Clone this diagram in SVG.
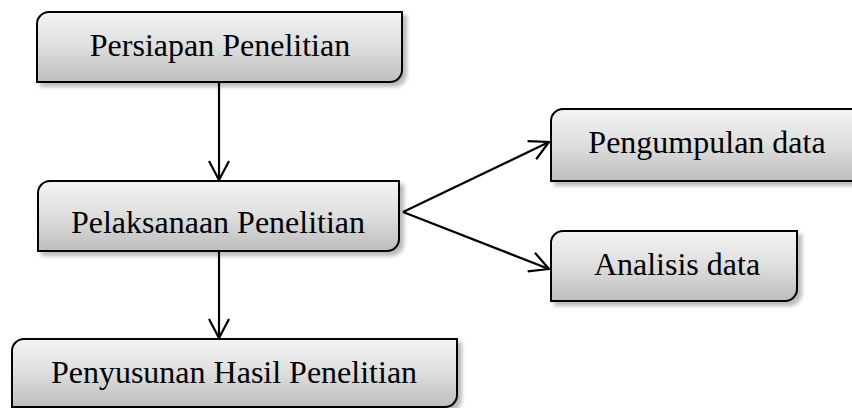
<svg xmlns="http://www.w3.org/2000/svg" width="852" height="408" viewBox="0 0 852 408">
  <defs>
    <linearGradient id="boxFill" x1="0" y1="0" x2="0" y2="1">
      <stop offset="0" stop-color="#f4f4f4"/>
      <stop offset="0.5" stop-color="#dedede"/>
      <stop offset="1" stop-color="#bdbdbd"/>
    </linearGradient>
    <filter id="shadow" x="-5%" y="-10%" width="115%" height="130%">
      <feGaussianBlur in="SourceAlpha" stdDeviation="2"/>
      <feOffset dx="4" dy="4" result="off"/>
      <feComponentTransfer><feFuncA type="linear" slope="0.28"/></feComponentTransfer>
      <feMerge><feMergeNode/><feMergeNode in="SourceGraphic"/></feMerge>
    </filter>
    <marker id="open" viewBox="0 0 22 22" refX="20" refY="11" markerWidth="22" markerHeight="22" markerUnits="userSpaceOnUse" orient="auto">
      <path d="M1 1 L20 11 L1 21" fill="none" stroke="#000" stroke-width="2.2"/>
    </marker>
  </defs>
  <style>
    .box { fill: url(#boxFill); stroke: #000; stroke-width: 2; filter: url(#shadow); }
    .lbl { font-family: "Liberation Serif", "Times New Roman", serif; font-size: 32px; fill: #000; text-anchor: middle; }
    .conn { fill: none; stroke: #000; stroke-width: 2.2; marker-end: url(#open); }
  </style>

  <g id="connectors">
    <line class="conn" x1="219" y1="83" x2="219" y2="180"/>
    <line class="conn" x1="219" y1="252" x2="219" y2="338"/>
    <line class="conn" x1="403" y1="212" x2="549" y2="142"/>
    <line class="conn" x1="403" y1="212" x2="549" y2="269"/>
  </g>

  <g id="persiapan">
    <path class="box" d="M49 12 H402 V70 A12 12 0 0 1 390 82 H37 V24 A12 12 0 0 1 49 12 Z"/>
    <text class="lbl" x="220" y="56">Persiapan Penelitian</text>
  </g>

  <g id="pelaksanaan">
    <path class="box" d="M50 181 H399 V239 A12 12 0 0 1 387 251 H38 V193 A12 12 0 0 1 50 181 Z"/>
    <text class="lbl" x="218" y="233">Pelaksanaan Penelitian</text>
  </g>

  <g id="penyusunan">
    <path class="box" d="M24 339 H457 V395 A12 12 0 0 1 445 407 H12 V351 A12 12 0 0 1 24 339 Z"/>
    <text class="lbl" x="234" y="383">Penyusunan Hasil Penelitian</text>
  </g>

  <g id="pengumpulan">
    <path class="box" d="M563 109 H860 V181 H551 V121 A12 12 0 0 1 563 109 Z"/>
    <text class="lbl" x="707" y="153">Pengumpulan data</text>
  </g>

  <g id="analisis">
    <path class="box" d="M563 231 H797 V289 A12 12 0 0 1 785 301 H551 V243 A12 12 0 0 1 563 231 Z"/>
    <text class="lbl" x="677" y="275">Analisis data</text>
  </g>
</svg>
